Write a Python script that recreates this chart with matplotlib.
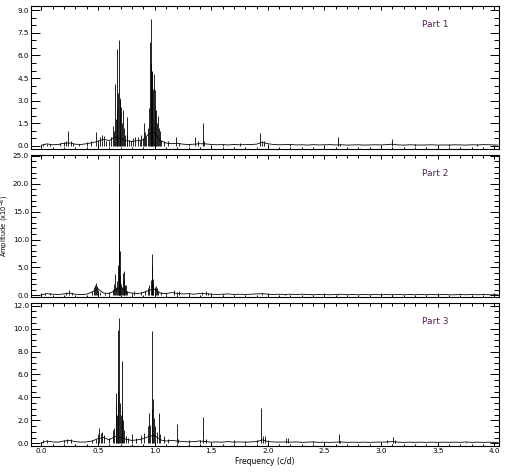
import matplotlib
matplotlib.use("Agg")
import matplotlib.pyplot as plt
from matplotlib.ticker import MultipleLocator

# coarse noise floor of the periodograms, shared frequency grid (c/d)
base_freq = [0.00, 0.05, 0.10, 0.15, 0.20, 0.25, 0.30, 0.35, 0.40, 0.45,
             0.50, 0.55, 0.60, 0.65, 0.70, 0.75, 0.80, 0.85, 0.90, 0.95,
             1.00, 1.05, 1.10, 1.15, 1.20, 1.25, 1.30, 1.35, 1.40, 1.45,
             1.50, 1.55, 1.60, 1.65, 1.70, 1.75, 1.80, 1.85, 1.90, 1.95,
             2.00, 2.05, 2.10, 2.15, 2.20, 2.25, 2.30, 2.35, 2.40, 2.45,
             2.50, 2.55, 2.60, 2.65, 2.70, 2.75, 2.80, 2.85, 2.90, 2.95,
             3.00, 3.05, 3.10, 3.15, 3.20, 3.25, 3.30, 3.35, 3.40, 3.45,
             3.50, 3.55, 3.60, 3.65, 3.70, 3.75, 3.80, 3.85, 3.90, 3.95,
             4.00, 4.03]

p1_base = [0.05, 0.14, 0.08, 0.10, 0.18, 0.20, 0.12, 0.10, 0.15, 0.22,
           0.30, 0.45, 0.35, 0.60, 0.50, 0.35, 0.30, 0.35, 0.40, 0.80,
           0.90, 0.35, 0.20, 0.15, 0.18, 0.12, 0.10, 0.12, 0.15, 0.14,
           0.10, 0.08, 0.09, 0.07, 0.10, 0.08, 0.09, 0.10, 0.12, 0.25,
           0.15, 0.10, 0.08, 0.09, 0.10, 0.07, 0.08, 0.06, 0.09, 0.07,
           0.08, 0.09, 0.07, 0.08, 0.06, 0.07, 0.08, 0.06, 0.07, 0.08,
           0.07, 0.09, 0.12, 0.07, 0.06, 0.08, 0.07, 0.06, 0.07, 0.08,
           0.06, 0.07, 0.06, 0.08, 0.07, 0.06, 0.08, 0.07, 0.09, 0.08,
           0.07, 0.06]

p2_base = [0.10, 0.30, 0.20, 0.15, 0.25, 0.40, 0.20, 0.15, 0.20, 0.60,
           1.20, 0.40, 0.35, 0.80, 1.50, 0.60, 0.40, 0.30, 0.50, 0.90,
           1.10, 0.40, 0.30, 0.50, 0.35, 0.25, 0.30, 0.20, 0.35, 0.30,
           0.20, 0.15, 0.20, 0.25, 0.15, 0.20, 0.15, 0.20, 0.25, 0.30,
           0.20, 0.15, 0.20, 0.15, 0.20, 0.15, 0.20, 0.15, 0.10, 0.15,
           0.15, 0.10, 0.15, 0.20, 0.10, 0.15, 0.10, 0.15, 0.10, 0.15,
           0.10, 0.15, 0.10, 0.15, 0.10, 0.15, 0.10, 0.15, 0.10, 0.15,
           0.10, 0.15, 0.10, 0.10, 0.15, 0.10, 0.15, 0.10, 0.15, 0.10,
           0.10, 0.10]

p3_base = [0.05, 0.20, 0.12, 0.10, 0.20, 0.25, 0.15, 0.10, 0.12, 0.20,
           0.40, 0.50, 0.30, 0.60, 0.50, 0.35, 0.25, 0.30, 0.40, 0.60,
           0.70, 0.30, 0.20, 0.25, 0.20, 0.15, 0.12, 0.15, 0.20, 0.15,
           0.10, 0.12, 0.10, 0.15, 0.10, 0.12, 0.10, 0.12, 0.15, 0.30,
           0.15, 0.12, 0.10, 0.12, 0.10, 0.12, 0.08, 0.10, 0.12, 0.08,
           0.10, 0.08, 0.10, 0.12, 0.08, 0.10, 0.08, 0.10, 0.08, 0.10,
           0.10, 0.12, 0.15, 0.10, 0.08, 0.10, 0.08, 0.10, 0.08, 0.10,
           0.08, 0.10, 0.08, 0.10, 0.08, 0.12, 0.08, 0.10, 0.08, 0.10,
           0.08, 0.08]

# peaks: (frequency c/d, amplitude)
p1_peaks = [(0.02, 0.15), (0.05, 0.12), (0.08, 0.10), (0.17, 0.20), (0.20, 0.25),
            (0.22, 0.30), (0.24, 1.00), (0.26, 0.30), (0.28, 0.20), (0.33, 0.15),
            (0.40, 0.25), (0.44, 0.30), (0.48, 0.95), (0.50, 0.40), (0.52, 0.60),
            (0.535, 0.70), (0.55, 0.65), (0.57, 0.30), (0.60, 0.35), (0.62, 0.60),
            (0.63, 1.30), (0.64, 1.00), (0.65, 4.10), (0.658, 1.80), (0.665, 2.50),
            (0.672, 6.40), (0.68, 3.50), (0.686, 7.00), (0.692, 3.00), (0.697, 3.20),
            (0.703, 2.60), (0.71, 1.50), (0.72, 2.40), (0.73, 1.20), (0.74, 0.70),
            (0.753, 1.90), (0.76, 0.80), (0.775, 0.40), (0.79, 0.30), (0.81, 0.50),
            (0.83, 0.60), (0.85, 0.60), (0.87, 0.40), (0.885, 0.70), (0.895, 0.50),
            (0.905, 1.50), (0.915, 0.90), (0.925, 0.60), (0.94, 1.20), (0.95, 2.50),
            (0.958, 6.90), (0.965, 5.50), (0.973, 8.40), (0.978, 5.00), (0.982, 4.90),
            (0.988, 3.80), (0.994, 4.80), (1.00, 3.70), (1.008, 2.40), (1.017, 2.40),
            (1.025, 1.50), (1.03, 2.00), (1.04, 1.20), (1.045, 1.00), (1.06, 0.40),
            (1.08, 0.30), (1.12, 0.30), (1.19, 0.60), (1.22, 0.20), (1.30, 0.15),
            (1.36, 0.60), (1.38, 0.30), (1.427, 1.50), (1.44, 0.30), (1.60, 0.15),
            (1.75, 0.20), (1.934, 0.85), (1.95, 0.30), (1.97, 0.35), (2.00, 0.15),
            (2.20, 0.15), (2.62, 0.60), (2.64, 0.15), (3.10, 0.45), (3.30, 0.10),
            (3.60, 0.12), (3.85, 0.12)]

p2_peaks = [(0.03, 0.40), (0.08, 0.50), (0.22, 0.60), (0.245, 0.90), (0.27, 0.50),
            (0.45, 0.80), (0.465, 1.50), (0.475, 1.90), (0.485, 2.20), (0.495, 1.70),
            (0.505, 1.00), (0.52, 0.60), (0.56, 0.50), (0.60, 0.60), (0.63, 1.20),
            (0.645, 2.00), (0.652, 3.80), (0.66, 1.50), (0.67, 2.50), (0.678, 5.50),
            (0.684, 8.40), (0.687, 25.50), (0.689, 20.00), (0.691, 8.00), (0.697, 3.50),
            (0.705, 2.00), (0.712, 1.50), (0.72, 4.05), (0.727, 3.00), (0.732, 4.40),
            (0.74, 1.80), (0.75, 1.80), (0.76, 0.80), (0.80, 0.50), (0.82, 0.70),
            (0.88, 0.60), (0.92, 0.80), (0.94, 1.30), (0.955, 1.80), (0.965, 2.80),
            (0.975, 7.40), (0.98, 5.40), (0.986, 3.00), (0.99, 2.00), (1.00, 1.50),
            (1.01, 1.60), (1.02, 1.40), (1.035, 0.80), (1.06, 0.60), (1.10, 0.50),
            (1.17, 0.90), (1.20, 0.60), (1.22, 0.70), (1.30, 0.40), (1.42, 0.60),
            (1.45, 0.70), (1.47, 0.50), (1.60, 0.30), (1.95, 0.35), (2.15, 0.30),
            (2.62, 0.30), (3.10, 0.25)]

p3_peaks = [(0.02, 0.30), (0.05, 0.25), (0.20, 0.30), (0.23, 0.35), (0.26, 0.35),
            (0.45, 0.30), (0.48, 0.40), (0.505, 0.80), (0.514, 1.30), (0.525, 0.90),
            (0.535, 1.00), (0.55, 0.70), (0.60, 0.50), (0.63, 1.20), (0.645, 1.30),
            (0.657, 4.35), (0.664, 3.30), (0.67, 2.50), (0.677, 4.60), (0.681, 9.90),
            (0.687, 10.90), (0.693, 3.50), (0.70, 2.50), (0.71, 7.20), (0.716, 3.00),
            (0.722, 2.00), (0.73, 1.20), (0.745, 0.60), (0.77, 0.50), (0.80, 0.80),
            (0.84, 0.50), (0.88, 0.70), (0.91, 0.90), (0.94, 1.50), (0.953, 2.65),
            (0.962, 1.60), (0.975, 9.80), (0.982, 3.00), (0.99, 3.90), (0.997, 2.20),
            (1.005, 1.50), (1.02, 1.00), (1.04, 2.60), (1.05, 0.80), (1.08, 0.60),
            (1.12, 0.40), (1.195, 1.65), (1.21, 0.40), (1.30, 0.30), (1.40, 0.30),
            (1.43, 2.25), (1.45, 0.40), (1.70, 0.30), (1.80, 0.20), (1.90, 0.25),
            (1.944, 3.10), (1.96, 0.60), (1.975, 0.60), (2.00, 0.30), (2.156, 0.45),
            (2.175, 0.45), (2.40, 0.20), (2.625, 0.80), (2.64, 0.20), (3.05, 0.25),
            (3.104, 0.57), (3.12, 0.30), (3.75, 0.15)]

part_labels = ["Part 1", "Part 2", "Part 3"]
y_limits = [(-0.22, 9.3), (-0.25, 25.25), (-0.21, 12.23)]
y_major = [1.5, 5.0, 2.0]
y_minor = [0.5, 1.0, 0.5]
x_ticks = [0.0, 0.5, 1.0, 1.5, 2.0, 2.5, 3.0, 3.5, 4.0]

plt.rcParams["font.family"] = "DejaVu Sans"
fig = plt.figure(figsize=(5.11, 4.74), dpi=100)

# axes boxes in figure fractions: left, bottom, width, height
boxes = [(0.0607, 0.685, 0.9158, 0.303),
         (0.0607, 0.374, 0.9158, 0.300),
         (0.0607, 0.0597, 0.9158, 0.301)]

bases = [p1_base, p2_base, p3_base]
peaks = [p1_peaks, p2_peaks, p3_peaks]

for i in range(3):
    ax = fig.add_axes(boxes[i])
    pf, pa = zip(*peaks[i])
    ax.plot(base_freq, bases[i], color="k", lw=0.6)
    ax.vlines(pf, 0, pa, color="k", lw=0.6)

    ax.set_xlim(-0.09, 4.04)
    ax.set_ylim(*y_limits[i])
    ax.set_xticks(x_ticks)
    ax.xaxis.set_minor_locator(MultipleLocator(0.1))
    ax.yaxis.set_major_locator(MultipleLocator(y_major[i]))
    ax.yaxis.set_minor_locator(MultipleLocator(y_minor[i]))
    ax.yaxis.set_major_formatter(plt.FormatStrFormatter("%.1f"))
    ax.tick_params(axis="both", which="both", direction="in",
                   top=True, right=True, labelsize=5.2, width=0.7, pad=2)
    ax.tick_params(axis="y", pad=1.5)
    ax.tick_params(axis="x", which="major", length=3)
    ax.tick_params(axis="x", which="minor", length=1.8)
    ax.tick_params(axis="y", which="major", length=6.5)
    ax.tick_params(axis="y", which="minor", length=3.3)
    for s in ax.spines.values():
        s.set_linewidth(0.8)
    if i < 2:
        ax.set_xticklabels([])
    else:
        ax.xaxis.set_major_formatter(plt.FormatStrFormatter("%.1f"))
        ax.set_xlabel("Frequency (c/d)", fontsize=5.5, labelpad=2)
    if i == 1:
        ax.set_ylabel("Amplitude (x10$^{-6}$)", fontsize=4.8)
        ax.yaxis.set_label_coords(-0.043, 0.5)
    ax.text(0.863, 0.868, part_labels[i], transform=ax.transAxes,
            fontsize=6.5, color="#502050", ha="center", va="center")

fig.savefig("out.png", dpi=100)
